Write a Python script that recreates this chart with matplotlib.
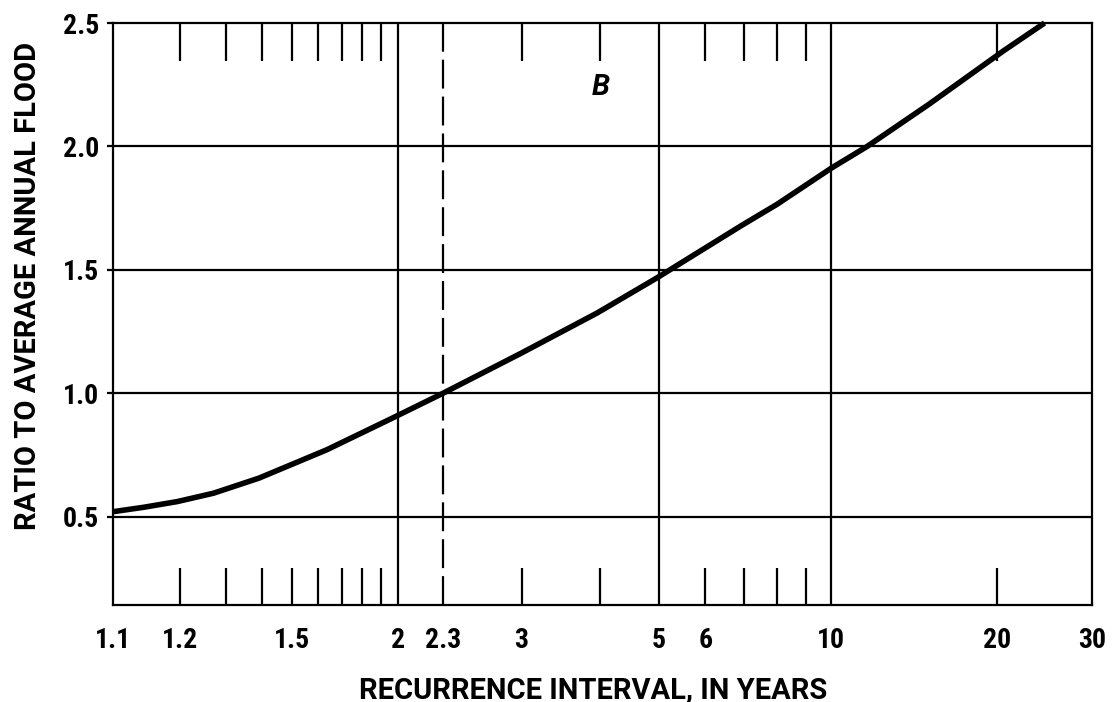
import numpy as np
import matplotlib
matplotlib.use("Agg")
import matplotlib.pyplot as plt
from matplotlib import font_manager as fm

# ---- data ----
recurrence = [1.1, 1.14, 1.195, 1.27, 1.39, 1.635, 1.97, 2.3, 3.0, 3.95, 4.96, 6.94, 8.0, 10.0, 11.6, 15.0, 20.6, 24.5]
ratio      = [0.52, 0.538, 0.561, 0.595, 0.656, 0.771, 0.901, 1.00, 1.163, 1.325, 1.467, 1.68, 1.765, 1.912, 2.00, 2.17, 2.388, 2.50]

x_tick_values = [1.1, 1.2, 1.5, 2, 2.3, 3, 5, 6, 10, 20, 30]
x_tick_labels = ["1.1", "1.2", "1.5", "2", "2.3", "3", "5", "6", "10", "20", "30"]
minor_ticks = [1.2, 1.3, 1.4, 1.5, 1.6, 1.7, 1.8, 1.9, 3, 4, 6, 7, 8, 9, 20]
y_tick_values = [0.5, 1.0, 1.5, 2.0, 2.5]
y_tick_labels = ["0.5", "1.0", "1.5", "2.0", "2.5"]
v_grid = [2, 5, 10]
h_grid = [0.5, 1.0, 1.5, 2.0]
dashed_line = 2.3

names = {f.name for f in fm.fontManager.ttflist}
TICKFAM = ["Roboto Condensed", "DejaVu Sans"] if "Roboto Condensed" in names else ["DejaVu Sans"]
LABFAM = ["Roboto", "DejaVu Sans"] if "Roboto" in names else ["DejaVu Sans"]
plt.rcParams["font.family"] = TICKFAM


def fwd(T):
    T = np.asarray(T, dtype=float)
    with np.errstate(all="ignore"):
        Tc = np.clip(T, 1.0001, 1e6)
        return -np.log(-np.log(1.0 - 1.0 / Tc))


def inv(u):
    u = np.asarray(u, dtype=float)
    with np.errstate(all="ignore"):
        return 1.0 / (1.0 - np.exp(-np.exp(-u)))


fig = plt.figure(figsize=(11.17, 7.02), dpi=100)
ax = fig.add_axes([113 / 1117, 1 - 605 / 702, (1092 - 113) / 1117, (605 - 23) / 702])
ax.set_xscale("function", functions=(fwd, inv))
ax.set_xlim(1.1, 30)
ax.set_ylim(0.142, 2.5)

lw = 1.6
for s in ax.spines.values():
    s.set_linewidth(lw)

for v in v_grid:
    ax.axvline(v, color="black", lw=lw)
ax.axvline(dashed_line, color="black", lw=lw, dashes=(13, 3.6))
for h in h_grid:
    ax.axhline(h, color="black", lw=lw)

# inner ticks top and bottom
ax.xaxis.remove_overlapping_locs = False
ax.set_xticks(minor_ticks, minor=True)
ax.tick_params(axis="x", which="minor", direction="in", length=27, width=lw,
               top=True, bottom=True)
ax.set_xticks(x_tick_values)
ax.set_xticklabels(x_tick_labels)
ax.tick_params(axis="x", which="major", length=0, pad=16, labelsize=20)
for lab in ax.get_xticklabels():
    lab.set_fontweight("bold")

ax.set_yticks(y_tick_values)
ax.set_yticklabels(y_tick_labels)
ax.tick_params(axis="y", which="major", direction="out", length=4, width=lw,
               pad=6, labelsize=20)
for lab in ax.get_yticklabels():
    lab.set_fontweight("bold")

ax.plot(recurrence, ratio, color="black", lw=4.0, solid_capstyle="butt",
        solid_joinstyle="round", clip_on=False)

ax.text(4.0, 2.24, "B", fontsize=21, fontweight="bold", fontstyle="italic",
        ha="center", va="center", family=LABFAM)

ax.set_xlabel("RECURRENCE INTERVAL, IN YEARS", fontsize=21, fontweight="bold",
              family=LABFAM)
ax.set_ylabel("RATIO TO AVERAGE ANNUAL FLOOD", fontsize=21, fontweight="bold",
              family=LABFAM)
ax.xaxis.set_label_coords(0.49, -0.122)
ax.yaxis.set_label_coords(-0.073, 0.548)

fig.savefig("out.png", dpi=100, facecolor="white")
